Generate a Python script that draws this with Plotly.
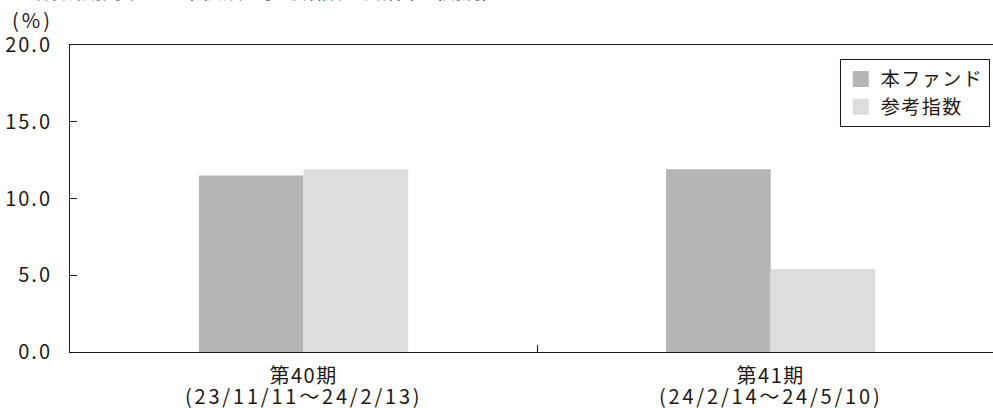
import plotly.graph_objects as go

periods = ["第40期", "第41期"]
period_ranges = ["(23/11/11～24/2/13)", "(24/2/14～24/5/10)"]
fund_values = [11.5, 11.9]
index_values = [11.9, 5.4]
series_names = ["本ファンド", "参考指数"]
y_ticks = [0, 5, 10, 15, 20]
y_tick_labels = ["0.0", "5.0", "10.0", "15.0", "20.0"]

FONT = "Noto Sans CJK JP"
FS = 20
C1 = "#b4b5b5"
C2 = "#dcdddd"
AX = "#231815"


def spaced(t, px):
    return f'<span style="letter-spacing:{px}px">{t}</span>'


def fnt(size=FS):
    return dict(family=FONT, size=size, color=AX)


fig = go.Figure()
fig.add_trace(go.Bar(x=periods, y=fund_values, marker=dict(color=C1, line=dict(width=0)),
                     showlegend=False, name=series_names[0]))
fig.add_trace(go.Bar(x=periods, y=index_values, marker=dict(color=C2, line=dict(width=0)),
                     showlegend=False, name=series_names[1]))
for nm, col in zip(series_names, [C1, C2]):
    fig.add_trace(go.Scatter(x=[None], y=[None], mode="markers", name=spaced(nm, 1.5),
                             marker=dict(symbol="square", size=16, color=col, line=dict(width=0))))

annotations = [
    dict(text=spaced("(%)", 3), xref="paper", yref="paper", x=-0.041, y=1.083, xanchor="center",
         yanchor="middle", showarrow=False, font=fnt()),
    dict(text="■当作成期間中の基準価額と参考指数の騰落率（期別）", xref="paper", yref="paper",
         x=-0.0758, y=1.124, xanchor="left", yanchor="bottom", showarrow=False,
         font=fnt()),
]
for p, r in zip(periods, period_ranges):
    annotations.append(dict(text=spaced(r, 2.8), x=p, xref="x", yref="paper", y=-0.142,
                            xanchor="center", yanchor="middle", showarrow=False,
                            font=fnt()))

fig.update_layout(
    width=993, height=408,
    margin=dict(l=70, r=0, t=45, b=56),
    paper_bgcolor="white", plot_bgcolor="white",
    font=fnt(),
    barmode="group", bargap=0.552, bargroupgap=0,
    showlegend=True,
    legend=dict(x=0.9965, xanchor="right", y=0.954, yanchor="top",
                bordercolor=AX, borderwidth=1, bgcolor="white",
                font=fnt(19),
                itemwidth=30, tracegroupgap=0),
    xaxis=dict(type="category", range=[-0.5, 1.476], showline=True, linecolor=AX, linewidth=1,
               mirror=True, ticks="inside", ticklen=7, tickcolor=AX, tickson="boundaries",
               tickvals=periods, ticktext=[spaced(p, 1.5) for p in periods],
               ticklabelstandoff=6,
               showgrid=False, tickfont=fnt()),
    yaxis=dict(range=[0, 20], tickvals=y_ticks, ticktext=[spaced(t, 2.0) for t in y_tick_labels],
               showline=True,
               linecolor=AX, linewidth=1, ticks="inside", ticklen=7, tickcolor=AX,
               ticklabelstandoff=13,
               showgrid=False, zeroline=False, tickfont=fnt()),
    annotations=annotations,
)

fig.write_html("out.html")
